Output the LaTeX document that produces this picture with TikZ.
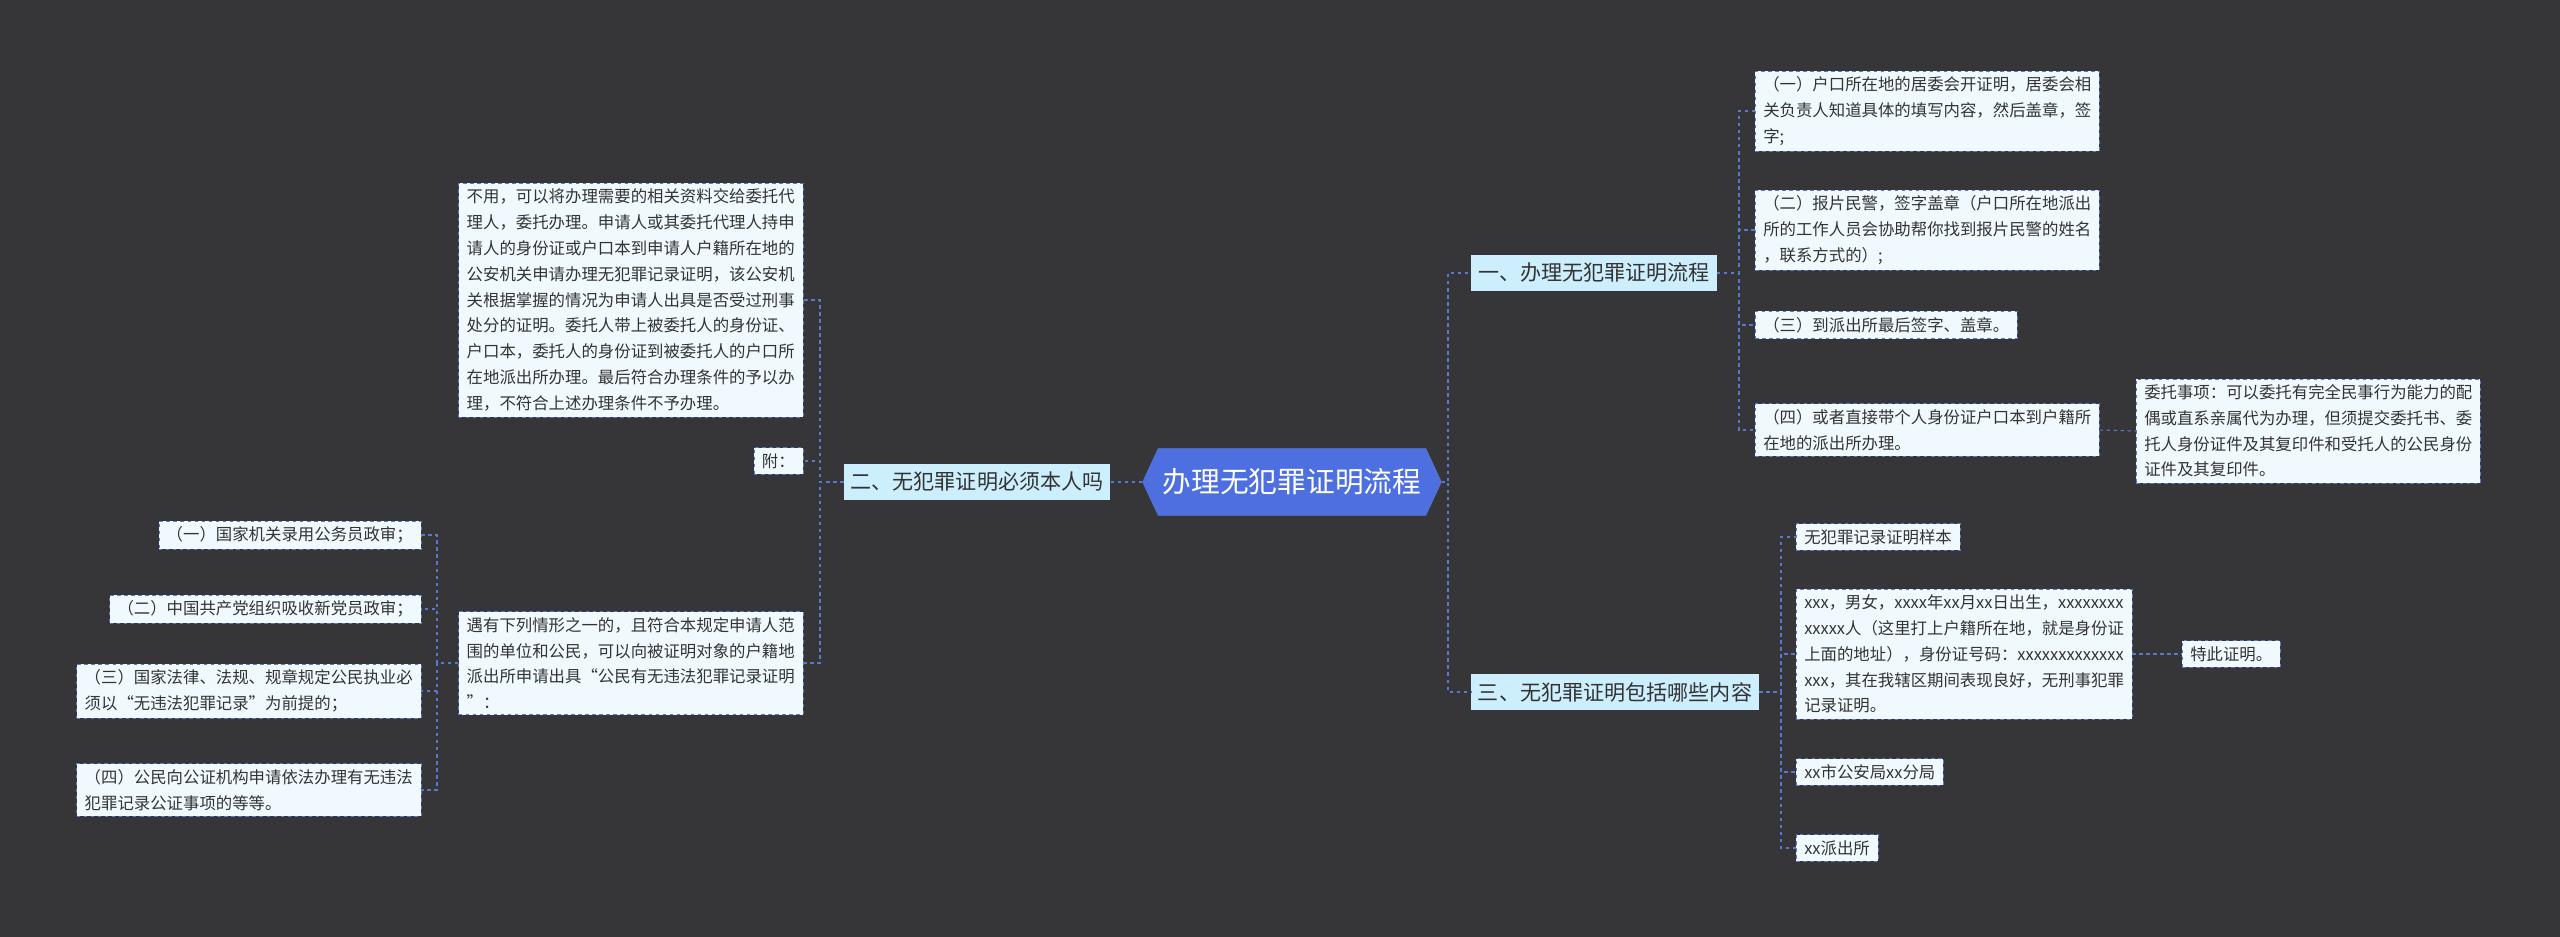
\documentclass[tikz,border=0pt]{standalone}
\usepackage{fontspec}
\setmainfont{Noto Sans CJK SC}
\usetikzlibrary{shapes.symbols}
\definecolor{bgc}{HTML}{363537}
\definecolor{linec}{HTML}{5A78D0}
\definecolor{leaff}{HTML}{F0FAFE}
\definecolor{branchf}{HTML}{CDEEFC}
\definecolor{rootf}{HTML}{4E6FE0}
\definecolor{textc}{HTML}{333333}
\begin{document}
\begin{tikzpicture}[x=0.03cm,y=-0.03cm]
  \tikzstyle{leaf} = [draw=linec,dashed,fill=leaff,text=textc,align=left,
    inner xsep=0.24cm,inner ysep=5pt,font=\fontsize{14}{22}\selectfont]
  \tikzstyle{branch} = [fill=branchf,text=textc,inner xsep=0.2cm,inner ysep=7pt,
    font=\fontsize{18}{22}\selectfont]
  \tikzstyle{link} = [draw=linec,dashed,line width=0.9pt]
  \fill [bgc] (0,0) rectangle (2560,937);
  \useasboundingbox (0,0) rectangle (2560,937);
  \node [shape=signal,signal to=east and west,signal pointer angle=130,fill=rootf,
    draw=linec,text=white,minimum height=2cm,inner xsep=4pt,
    font=\fontsize{24.5}{28}\selectfont] (root) at (1292,482) {办理无犯罪证明流程};
  \node [branch] (b1) at (1594,273) {一、办理无犯罪证明流程};
  \node [branch] (b2) at (977,482) {二、无犯罪证明必须本人吗};
  \node [branch] (b3) at (1615,692) {三、无犯罪证明包括哪些内容};
  % branch 1
  \node [leaf,anchor=west] (l1) at (1755,111) {（一）户口所在地的居委会开证明，居委会相\\关负责人知道具体的填写内容，然后盖章，签\\字;};
  \node [leaf,anchor=west] (l2) at (1755,230) {（二）报片民警，签字盖章（户口所在地派出\\所的工作人员会协助帮你找到报片民警的姓名\\，联系方式的）;};
  \node [leaf,anchor=west] (l3) at (1755,325) {（三）到派出所最后签字、盖章。};
  \node [leaf,anchor=west] (l4) at (1755,430) {（四）或者直接带个人身份证户口本到户籍所\\在地的派出所办理。};
  \node [leaf,anchor=west] (l4a) at (2136,431) {委托事项：可以委托有完全民事行为能力的配\\偶或直系亲属代为办理，但须提交委托书、委\\托人身份证件及其复印件和受托人的公民身份\\证件及其复印件。};
  % branch 3
  \node [leaf,anchor=west] (m1) at (1796,537) {无犯罪记录证明样本};
  \node [leaf,anchor=west] (m2) at (1796,654) {xxx，男女，xxxx年xx月xx日出生，xxxxxxxx\\xxxxx人（这里打上户籍所在地，就是身份证\\上面的地址），身份证号码：xxxxxxxxxxxxx\\xxx，其在我辖区期间表现良好，无刑事犯罪\\记录证明。};
  \node [leaf,anchor=west] (m2a) at (2182,654) {特此证明。};
  \node [leaf,anchor=west] (m3) at (1796,772) {xx市公安局xx分局};
  \node [leaf,anchor=west] (m4) at (1796,848) {xx派出所};
  % branch 2
  \node [leaf,anchor=east] (a1) at (803,461) {附：};
  \node [leaf,anchor=east] (a2) at (803,300) {不用，可以将办理需要的相关资料交给委托代\\理人，委托办理。申请人或其委托代理人持申\\请人的身份证或户口本到申请人户籍所在地的\\公安机关申请办理无犯罪记录证明，该公安机\\关根据掌握的情况为申请人出具是否受过刑事\\处分的证明。委托人带上被委托人的身份证、\\户口本，委托人的身份证到被委托人的户口所\\在地派出所办理。最后符合办理条件的予以办\\理，不符合上述办理条件不予办理。};
  \node [leaf,anchor=east] (a3) at (803,663) {遇有下列情形之一的，且符合本规定申请人范\\围的单位和公民，可以向被证明对象的户籍地\\派出所申请出具“公民有无违法犯罪记录证明\\”：};
  \node [leaf,anchor=east] (c1) at (421,535) {（一）国家机关录用公务员政审；};
  \node [leaf,anchor=east] (c2) at (421,609) {（二）中国共产党组织吸收新党员政审；};
  \node [leaf,anchor=east] (c3) at (421,691) {（三）国家法律、法规、规章规定公民执业必\\须以“无违法犯罪记录”为前提的；};
  \node [leaf,anchor=east] (c4) at (421,790) {（四）公民向公证机构申请依法办理有无违法\\犯罪记录公证事项的等等。};
  % connectors
  \foreach \c in {b1,b3}
    \draw [link] (root.east) -- (1448,482) |- (\c.west);
  \draw [link] (root.west) -- (b2.east);
  \foreach \c in {l1,l2,l3,l4}
    \draw [link] (b1.east) -- (1739,273) |- (\c.west);
  \draw [link] (l4.east) -- (l4a.west);
  \foreach \c in {m1,m2,m3,m4}
    \draw [link] (b3.east) -- (1781,692) |- (\c.west);
  \draw [link] (m2.east) -- (m2a.west);
  \foreach \c in {a1,a2,a3}
    \draw [link] (b2.west) -- (820,482) |- (\c.east);
  \foreach \c in {c1,c2,c3,c4}
    \draw [link] (a3.west) -- (437,663) |- (\c.east);
\end{tikzpicture}
\end{document}
